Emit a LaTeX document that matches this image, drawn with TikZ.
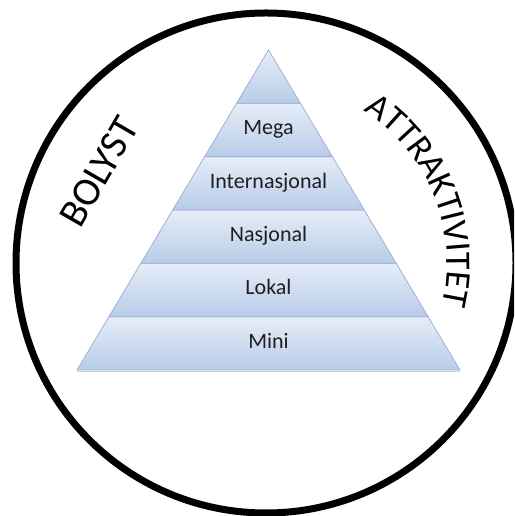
\documentclass[tikz,border=0pt]{standalone}
\usepackage{fontspec}
\setmainfont{Carlito}
\usepackage{tikz}
\usetikzlibrary{shapes,positioning,decorations.text}

\definecolor{layertop}{HTML}{E6EDF8}
\definecolor{layerbot}{HTML}{B8CCE8}
\definecolor{layerline}{HTML}{9DB2D4}
\definecolor{labelgray}{HTML}{1F1F1F}

\tikzset{
    layer/.style={draw=layerline, line width=0.8pt, trapezium, trapezium angle=59.1, trapezium stretches body,
        inner xsep=0pt, inner ysep=17.665pt, text height=14pt, text depth=4pt, top color=layertop, bottom color=layerbot,
        font=\fontsize{22}{26}\selectfont, text=labelgray}
}

\begin{document}
\begin{tikzpicture}[x=1pt, y=1pt, node distance=0pt, outer sep=0pt]
    \useasboundingbox (0,0) rectangle (514,516);
    \clip (0,0) rectangle (514,516);
    \node [draw, circle, line width=7pt, minimum size=500pt] (ring) at (266,253) {};

    \node [layer, minimum width=383pt] (mini) at (268.5,172.67) {Mini};
    \node [layer, minimum width=319.2pt, above=of mini] (lokal) {Lokal};
    \node [layer, minimum width=255.3pt, above=of lokal] (nasjonal) {Nasjonal};
    \node [layer, minimum width=191.5pt, above=of nasjonal] (internasjonal) {Internasjonal};
    \node [layer, minimum width=127.7pt, above=of internasjonal] (mega) {Mega};
    \node [layer, minimum width=63.8pt, above=of mega] (apex) {};
    \draw [black!18, line width=1.5pt] ([yshift=-1.5pt]mini.bottom left corner) -- ([yshift=-1.5pt]mini.bottom right corner);

    \node [rotate=60, font=\fontsize{40}{48}\selectfont] (bolyst) at (99,344) {BOLYST};
    \path [decorate, decoration={text along path, text align=center, text={|\fontsize{36}{44}\selectfont|ATTRAKTIVITET}}]
        ([shift={(58:181)}]ring.center) arc [start angle=58, end angle=-14, radius=181];
\end{tikzpicture}
\end{document}
